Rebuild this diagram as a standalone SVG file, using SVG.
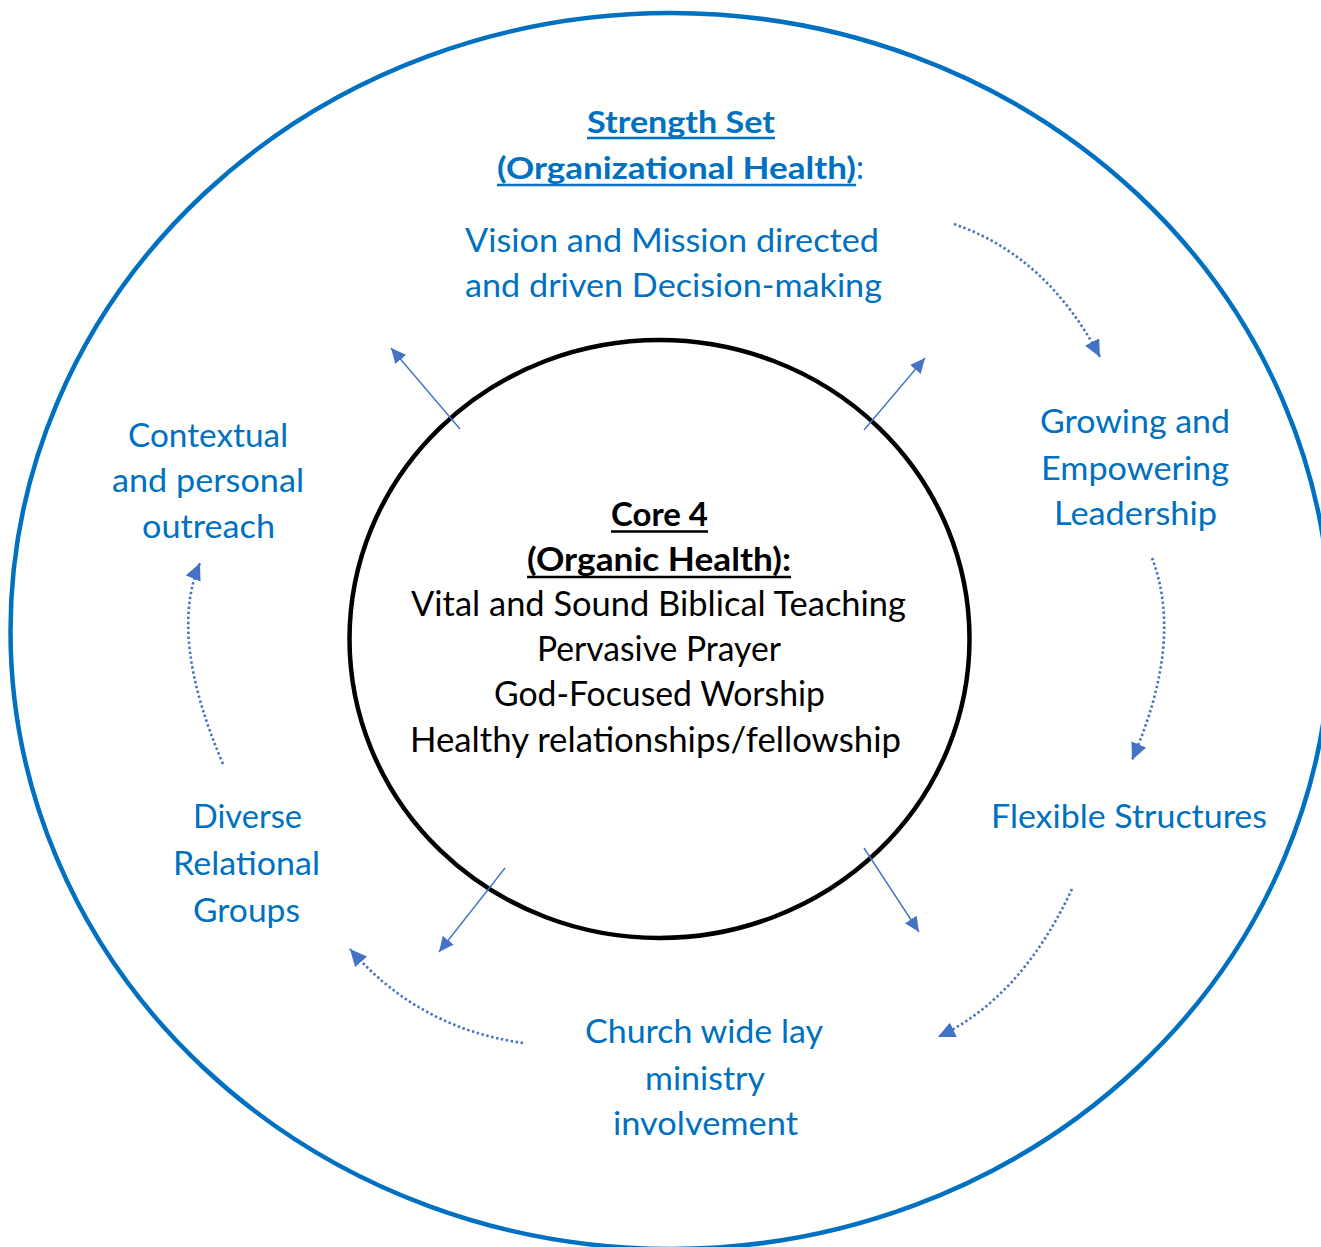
<svg xmlns="http://www.w3.org/2000/svg" width="1321" height="1247" viewBox="0 0 1321 1247">
  <defs>
    <style>
      .lbl { font-family: Lato, "Open Sans", "Liberation Sans", sans-serif; fill: #0070C0; font-size: 32px; }
      .hdr { font-family: Lato, "Open Sans", "Liberation Sans", sans-serif; fill: #0070C0; font-size: 31px; font-weight: bold; }
      .core { font-family: Lato, "Open Sans", "Liberation Sans", sans-serif; fill: #000000; font-size: 35px; }
      .coreb { font-family: Lato, "Open Sans", "Liberation Sans", sans-serif; fill: #000000; font-size: 33px; font-weight: bold; }
      .ul-blue { stroke: #0070C0; stroke-width: 2.6; }
      .ul-black { stroke: #000000; stroke-width: 2.6; }
      .ray { fill: none; stroke: #4472C4; stroke-width: 1.4; marker-end: url(#head); }
      .cycle { fill: none; stroke: #4472C4; stroke-width: 2.6; stroke-dasharray: 2.4 2.6; marker-end: url(#head-lg); }
    </style>
    <marker id="head" markerUnits="userSpaceOnUse" markerWidth="16" markerHeight="14" refX="15" refY="7" orient="auto">
      <path d="M0,0 L15,7 L0,14 Z" fill="#4472C4"/>
    </marker>
    <marker id="head-lg" markerUnits="userSpaceOnUse" markerWidth="18" markerHeight="16" refX="17" refY="8" orient="auto">
      <path d="M0,0 L17,8 L0,16 Z" fill="#4472C4"/>
    </marker>
  </defs>

  <rect width="1321" height="1247" fill="#ffffff"/>

  <!-- outer ring: strength set -->
  <g id="outer-ring">
    <ellipse cx="670.5" cy="631" rx="660" ry="618" fill="none" stroke="#0070C0" stroke-width="4.5"/>
  </g>

  <!-- inner circle: core 4 -->
  <g id="core">
    <ellipse cx="659.5" cy="639" rx="310" ry="299" fill="none" stroke="#000000" stroke-width="4.5"/>
    <text class="coreb" x="611" y="526" textLength="97" lengthAdjust="spacingAndGlyphs">Core 4</text>
    <line class="ul-black" x1="611" y1="531.5" x2="708" y2="531.5"/>
    <text class="coreb" x="527" y="571" textLength="264" lengthAdjust="spacingAndGlyphs">(Organic Health):</text>
    <line class="ul-black" x1="527" y1="577" x2="791" y2="577"/>
    <text class="core" x="411" y="616" textLength="495" lengthAdjust="spacingAndGlyphs">Vital and Sound Biblical Teaching</text>
    <text class="core" x="537" y="661" textLength="244" lengthAdjust="spacingAndGlyphs">Pervasive Prayer</text>
    <text class="core" x="494" y="706" textLength="331" lengthAdjust="spacingAndGlyphs">God-Focused Worship</text>
    <text class="core" x="410" y="752" textLength="491" lengthAdjust="spacingAndGlyphs">Healthy relationships/fellowship</text>
  </g>

  <!-- heading of the outer ring -->
  <g id="strength-set">
    <text class="hdr" x="587" y="133" textLength="188" lengthAdjust="spacingAndGlyphs">Strength Set</text>
    <line class="ul-blue" x1="587" y1="138" x2="775" y2="138"/>
    <text class="hdr" x="497" y="179" textLength="359" lengthAdjust="spacingAndGlyphs">(Organizational Health)</text>
    <text class="lbl" x="856" y="179">:</text>
    <line class="ul-blue" x1="497" y1="185" x2="856" y2="185"/>
  </g>

  <g id="vision">
    <text class="lbl" x="465" y="252" textLength="414" lengthAdjust="spacingAndGlyphs">Vision and Mission directed</text>
    <text class="lbl" x="465" y="297" textLength="417" lengthAdjust="spacingAndGlyphs">and driven Decision-making</text>
  </g>

  <g id="leadership">
    <text class="lbl" x="1040" y="433" textLength="190" lengthAdjust="spacingAndGlyphs">Growing and</text>
    <text class="lbl" x="1041" y="480" textLength="188" lengthAdjust="spacingAndGlyphs">Empowering</text>
    <text class="lbl" x="1054" y="525" textLength="163" lengthAdjust="spacingAndGlyphs">Leadership</text>
  </g>

  <g id="structures">
    <text class="lbl" x="991" y="828" textLength="276" lengthAdjust="spacingAndGlyphs">Flexible Structures</text>
  </g>

  <g id="lay-ministry">
    <text class="lbl" x="585" y="1043" textLength="238" lengthAdjust="spacingAndGlyphs">Church wide lay</text>
    <text class="lbl" x="645" y="1090" textLength="120" lengthAdjust="spacingAndGlyphs">ministry</text>
    <text class="lbl" x="613" y="1135" textLength="185" lengthAdjust="spacingAndGlyphs">involvement</text>
  </g>

  <g id="groups">
    <text class="lbl" x="193" y="828" textLength="109" lengthAdjust="spacingAndGlyphs">Diverse</text>
    <text class="lbl" x="173" y="875" textLength="147" lengthAdjust="spacingAndGlyphs">Relational</text>
    <text class="lbl" x="193" y="922" textLength="107" lengthAdjust="spacingAndGlyphs">Groups</text>
  </g>

  <g id="outreach">
    <text class="lbl" x="128" y="447" textLength="160" lengthAdjust="spacingAndGlyphs">Contextual</text>
    <text class="lbl" x="112" y="492" textLength="192" lengthAdjust="spacingAndGlyphs">and personal</text>
    <text class="lbl" x="142" y="538" textLength="133" lengthAdjust="spacingAndGlyphs">outreach</text>
  </g>

  <!-- connectors: rays out of the core and the dotted cycle around it -->
  <g id="connectors">
    <path class="ray" d="M460,429 L391,348"/>
    <path class="ray" d="M864,430 L925,358"/>
    <path class="ray" d="M505,868 L439,952"/>
    <path class="ray" d="M864,848 L919,932"/>

    <path class="cycle" d="M954,224 Q1047,256 1100,357"/>
    <path class="cycle" d="M1152,558 Q1184,641 1132,760"/>
    <path class="cycle" d="M1072,889 Q1021,998 938,1037"/>
    <path class="cycle" d="M523,1043 Q418,1028 350,949"/>
    <path class="cycle" d="M223,764 Q168,636 200,563"/>
  </g>
</svg>
